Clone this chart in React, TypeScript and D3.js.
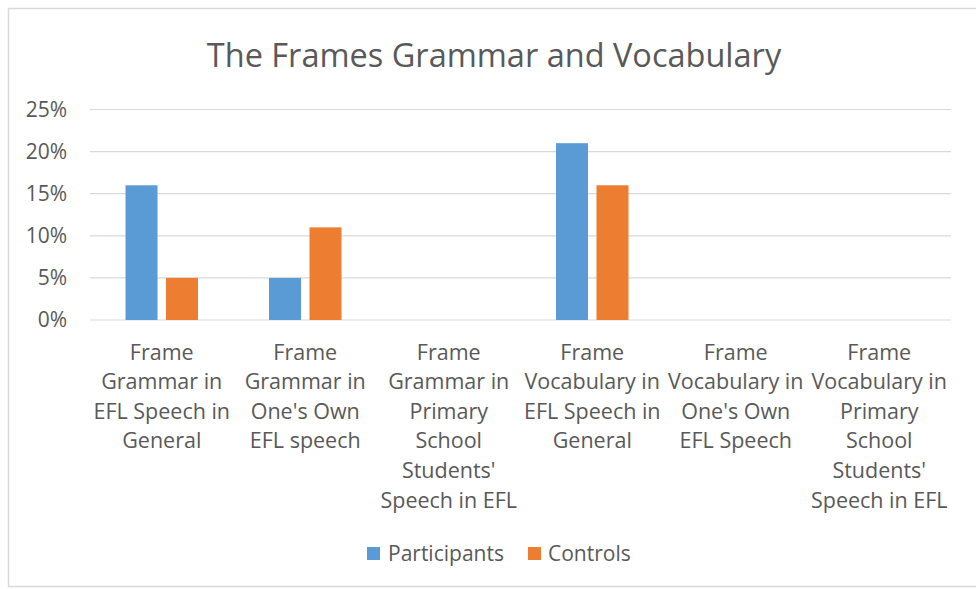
import * as d3 from "d3";

const title = "The Frames Grammar and Vocabulary";
const categories: string[][] = [
  ["Frame", "Grammar in", "EFL Speech in", "General"],
  ["Frame", "Grammar in", "One's Own", "EFL speech"],
  ["Frame", "Grammar in", "Primary", "School", "Students'", "Speech in EFL"],
  ["Frame", "Vocabulary in", "EFL Speech in", "General"],
  ["Frame", "Vocabulary in", "One's Own", "EFL Speech"],
  ["Frame", "Vocabulary in", "Primary", "School", "Students'", "Speech in EFL"],
];
const seriesNames = ["Participants", "Controls"];
const participants = [0.16, 0.05, 0, 0.21, 0, 0];
const controls = [0.05, 0.11, 0, 0.16, 0, 0];
const yTicks = [0, 0.05, 0.1, 0.15, 0.2, 0.25];
const colors = ["#5B9BD5", "#ED7D31"];

const W = 976;
const H = 589;
const font = "'Open Sans', 'Noto Sans', sans-serif";
const textColor = "#595959";

const App = () => {
  const left = 90;
  const right = 951;
  const yScale = d3.scaleLinear().domain([0, 0.25]).range([320, 109.5]);
  const keys = categories.map((_, i) => String(i));
  const x0 = d3.scaleBand().domain(keys).range([left, right]);
  const x1 = d3
    .scaleBand()
    .domain(seriesNames)
    .range([0, x0.bandwidth()])
    .paddingInner(0.21)
    .paddingOuter(0.877);
  const values = [participants, controls];
  const fmt = d3.format(".0%");

  return (
    <svg width={W} height={H} style={{ position: "absolute", left: 0, top: 0, fontFamily: font }}>
      <rect x={0} y={0} width={W} height={H} fill="#fff" />
      <rect x={8.5} y={8.5} width={W + 10} height={578} fill="none" stroke="#d9d9d9" strokeWidth={1.5} />
      <text x={494} y={67} textAnchor="middle" fontSize={32.5} fill={textColor}>
        {title}
      </text>
      {yTicks.map((t) => (
        <g key={t}>
          <line x1={left} x2={right} y1={yScale(t)} y2={yScale(t)} stroke="#d9d9d9" strokeWidth={1.2} />
          <text x={67} y={yScale(t)} dy="0.35em" textAnchor="end" fontSize={21} fill={textColor}>
            {fmt(t)}
          </text>
        </g>
      ))}
      {keys.map((k, i) => (
        <g key={k} transform={`translate(${x0(k)},0)`}>
          {seriesNames.map((s, j) =>
            values[j][i] > 0 ? (
              <rect
                key={s}
                x={x1(s)}
                y={yScale(values[j][i])}
                width={x1.bandwidth()}
                height={yScale(0) - yScale(values[j][i])}
                fill={colors[j]}
              />
            ) : null
          )}
          {categories[i].map((line, li) => (
            <text
              key={li}
              x={x0.bandwidth() / 2}
              y={352 + li * 29.6}
              dy="0.35em"
              textAnchor="middle"
              fontSize={21.5}
              fill={textColor}
            >
              {line}
            </text>
          ))}
        </g>
      ))}
      <g>
        <rect x={367} y={547} width={13} height={13} fill={colors[0]} />
        <text x={388} y={553.5} dy="0.35em" fontSize={21} fill={textColor}>
          {seriesNames[0]}
        </text>
        <rect x={528} y={547} width={13} height={13} fill={colors[1]} />
        <text x={548} y={553.5} dy="0.35em" fontSize={21} fill={textColor}>
          {seriesNames[1]}
        </text>
      </g>
    </svg>
  );
};

export default App;
